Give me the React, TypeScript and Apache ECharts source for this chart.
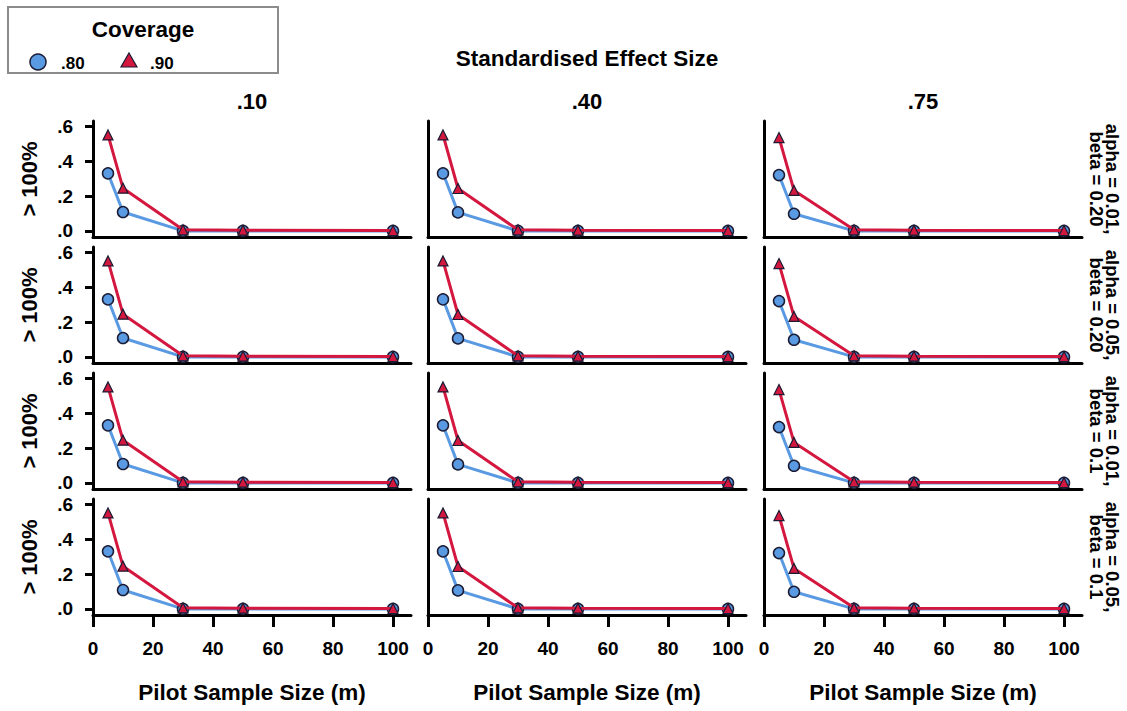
import React, { useEffect, useRef } from "react";
import * as echarts from "echarts";

const pilotSizes = [5, 10, 30, 50, 100];
const effectSizes = [".10", ".40", ".75"];
const rowLabels = [
  "alpha = 0.01,\nbeta = 0.20",
  "alpha = 0.05,\nbeta = 0.20",
  "alpha = 0.01,\nbeta = 0.1",
  "alpha = 0.05,\nbeta = 0.1",
];
// coverage .80 values per effect-size column
const cov80 = [
  [0.33, 0.108, 0.0, 0.0, 0.0],
  [0.33, 0.106, 0.0, 0.0, 0.0],
  [0.32, 0.098, 0.0, 0.0, 0.0],
];
// coverage .90 values per effect-size column
const cov90 = [
  [0.55, 0.245, 0.006, 0.004, 0.002],
  [0.55, 0.243, 0.006, 0.004, 0.002],
  [0.535, 0.232, 0.006, 0.004, 0.002],
];
const xTicks = [0, 20, 40, 60, 80, 100];
const yTicks = [0, 0.2, 0.4, 0.6];

const BLUE = "#5a9ae2";
const RED = "#d4173e";
const EDGE = "#1b1b33";
const FONT = "Liberation Sans, Arial, sans-serif";

export default function App() {
  const ref = useRef<HTMLDivElement>(null);
  useEffect(() => {
    if (!ref.current) return;
    const chart = echarts.init(ref.current, null, { renderer: "svg" });
    const colLeft = [93, 428, 764];
    const gridW = 318;
    const rowTop = (r: number) => 121 + 126 * r;
    const gridH = 116;
    const grids: any[] = [];
    const xAxes: any[] = [];
    const yAxes: any[] = [];
    const series: any[] = [];
    const graphics: any[] = [];
    const centered = { align: "center", verticalAlign: "middle", textAlign: "center", textVerticalAlign: "middle" };
    for (let r = 0; r < 4; r++) {
      for (let c = 0; c < 3; c++) {
        const idx = r * 3 + c;
        grids.push({ left: colLeft[c], top: rowTop(r), width: gridW, height: gridH });
        xAxes.push({
          type: "value",
          gridIndex: idx,
          min: 0,
          max: 106,
          axisLine: { show: true, onZero: false, lineStyle: { color: "#000", width: 3 } },
          axisTick: {
            show: r === 3,
            customValues: xTicks,
            length: 12,
            lineStyle: { color: "#000", width: 3 },
          },
          axisLabel: {
            show: r === 3,
            customValues: xTicks,
            margin: 24,
            fontSize: 19,
            fontWeight: "bold",
            fontFamily: FONT,
            color: "#000",
          },
          splitLine: { show: false },
        });
        yAxes.push({
          type: "value",
          gridIndex: idx,
          min: -0.035,
          max: 0.63,
          axisLine: { show: true, onZero: false, lineStyle: { color: "#000", width: 3 } },
          axisTick: {
            show: c === 0,
            customValues: yTicks,
            length: 8,
            lineStyle: { color: "#000", width: 3 },
          },
          axisLabel: {
            show: c === 0,
            customValues: yTicks,
            margin: 20,
            fontSize: 19,
            fontWeight: "bold",
            fontFamily: FONT,
            color: "#000",
            formatter: (v: number) => v.toFixed(1).replace(/^0/, ""),
          },
          splitLine: { show: false },
        });
        series.push({
          name: ".80",
          type: "line",
          xAxisIndex: idx,
          yAxisIndex: idx,
          data: pilotSizes.map((x, i) => [x, cov80[c][i]]),
          symbol: "circle",
          symbolSize: 11,
          lineStyle: { color: BLUE, width: 3 },
          itemStyle: { color: BLUE, borderColor: EDGE, borderWidth: 1.5 },
          z: 2,
        });
        series.push({
          name: ".90",
          type: "line",
          xAxisIndex: idx,
          yAxisIndex: idx,
          data: pilotSizes.map((x, i) => [x, cov90[c][i]]),
          symbol: "triangle",
          symbolSize: 10,
          lineStyle: { color: RED, width: 3 },
          itemStyle: { color: RED, borderColor: EDGE, borderWidth: 1.2 },
          z: 3,
        });
      }
      graphics.push({
        type: "text",
        x: 29,
        y: rowTop(r) + 58,
        rotation: Math.PI / 2,
        style: { text: "> 100%", font: `bold 22px ${FONT}`, fill: "#000", ...centered },
      });
      graphics.push({
        type: "text",
        x: 1104,
        y: rowTop(r) + 58,
        rotation: -Math.PI / 2,
        style: { text: rowLabels[r], font: `bold 18.5px ${FONT}`, lineHeight: 16, fill: "#000", ...centered },
      });
    }
    for (let c = 0; c < 3; c++) {
      const cx = colLeft[c] + gridW / 2;
      graphics.push({
        type: "text",
        x: cx,
        y: 101,
        style: { text: effectSizes[c], font: `bold 22px ${FONT}`, fill: "#000", ...centered },
      });
      graphics.push({
        type: "text",
        x: cx,
        y: 692,
        style: { text: "Pilot Sample Size (m)", font: `bold 22.5px ${FONT}`, fill: "#000", ...centered },
      });
    }
    graphics.push({
      type: "text",
      x: 587,
      y: 58,
      style: { text: "Standardised Effect Size", font: `bold 22.5px ${FONT}`, fill: "#000", ...centered },
    });
    // legend box
    graphics.push({
      type: "rect",
      shape: { x: 8, y: 7, width: 270, height: 66 },
      style: { fill: "#fff", stroke: "#8c8c8c", lineWidth: 2 },
      z: 1,
    });
    graphics.push({
      type: "text",
      x: 143,
      y: 29,
      style: { text: "Coverage", font: `bold 22.5px ${FONT}`, fill: "#000", ...centered },
      z: 2,
    });
    graphics.push({
      type: "circle",
      shape: { cx: 38, cy: 62, r: 8 },
      style: { fill: BLUE, stroke: EDGE, lineWidth: 1.5 },
      z: 2,
    });
    graphics.push({
      type: "text",
      x: 61,
      y: 63,
      style: {
        text: ".80",
        font: `bold 17px ${FONT}`,
        fill: "#000",
        align: "left",
        verticalAlign: "middle",
        textAlign: "left",
        textVerticalAlign: "middle",
      },
      z: 2,
    });
    graphics.push({
      type: "polygon",
      shape: { points: [[129, 53], [137, 67], [121, 67]] },
      style: { fill: RED, stroke: EDGE, lineWidth: 1.2 },
      z: 2,
    });
    graphics.push({
      type: "text",
      x: 150,
      y: 63,
      style: {
        text: ".90",
        font: `bold 17px ${FONT}`,
        fill: "#000",
        align: "left",
        verticalAlign: "middle",
        textAlign: "left",
        textVerticalAlign: "middle",
      },
      z: 2,
    });

    chart.setOption({
      animation: false,
      backgroundColor: "#fff",
      grid: grids,
      xAxis: xAxes,
      yAxis: yAxes,
      series,
      graphic: graphics,
    });
    return () => chart.dispose();
  }, []);
  return (
    <div
      ref={ref}
      style={{ position: "fixed", left: 0, top: 0, width: 1127, height: 711, background: "#fff" }}
    />
  );
}
